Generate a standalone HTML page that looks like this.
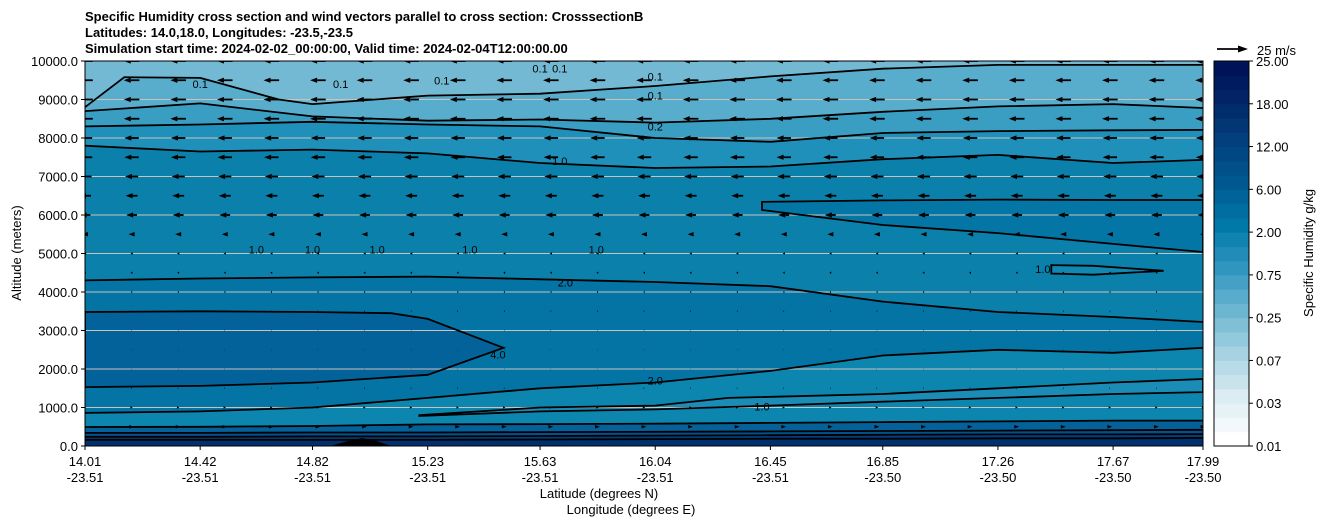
<!DOCTYPE html>
<html><head><meta charset="utf-8"><style>
html,body{margin:0;padding:0;background:#fff;}
svg{display:block;font-family:"Liberation Sans","DejaVu Sans",sans-serif;}
</style></head><body>
<svg id="chart" width="1326" height="526" viewBox="0 0 1326 526" xmlns="http://www.w3.org/2000/svg">
<text x="85" y="21" font-size="13" font-weight="bold">Specific Humidity cross section and wind vectors parallel to cross section: CrosssectionB</text>
<text x="85" y="37" font-size="13" font-weight="bold">Latitudes: 14.0,18.0, Longitudes: -23.5,-23.5</text>
<text x="85" y="53" font-size="13" font-weight="bold">Simulation start time: 2024-02-02_00:00:00, Valid time: 2024-02-04T12:00:00.00</text>
<defs><clipPath id="plotclip"><rect x="85" y="61" width="1118" height="385"/></clipPath></defs>
<g id="fills" clip-path="url(#plotclip)"></g>
<g id="grid"></g>
<g id="contours" clip-path="url(#plotclip)"></g>
<g id="arrows" clip-path="url(#plotclip)"></g>
<rect x="85" y="61" width="1118" height="385" fill="none" stroke="#000" stroke-width="1"/>
<g id="axes"></g>
<text transform="translate(21,253) rotate(-90)" text-anchor="middle" font-size="13">Altitude (meters)</text>
<text x="599" y="498" text-anchor="middle" font-size="13">Latitude (degrees N)</text>
<text x="631" y="514" text-anchor="middle" font-size="13">Longitude (degrees E)</text>
<g id="cbar"></g>
<text transform="translate(1313,253) rotate(-90)" text-anchor="middle" font-size="13">Specific Humidity g/kg</text>
<g>
<line x1="1217" y1="49" x2="1240" y2="49" stroke="#000" stroke-width="1.8"/>
<polygon points="1248,49 1238,45.5 1238,52.5" fill="#000"/>
<text x="1257" y="55" font-size="13">25 m/s</text>
</g>
</svg>
<script>
const xTickLats = [14.01,14.42,14.82,15.23,15.63,16.04,16.45,16.85,17.26,17.67,17.99];
const xTickLons = ["-23.51","-23.51","-23.51","-23.51","-23.51","-23.51","-23.51","-23.50","-23.50","-23.50","-23.50"];
const yTicks = [0,1000,2000,3000,4000,5000,6000,7000,8000,9000,10000];
const cbarTicks = ["0.01","0.03","0.07","0.25","0.75","2.00","6.00","12.00","18.00","25.00"];
const cbarKeyColors = ["#ffffff","#dbecf2","#a6d2e1","#6db6d1","#3096bf","#0079a8","#005891","#023f7c","#022466","#000a50"];
const windAlts = [10000,9500,9000,8500,8000,7500,7000,6500,6000,5500,5000,4500,4000,3500,3000,2500,2000,1500,1000,500];
const windU = [-13,-13,-13,-13,-12,-12,-11,-10,-9,-5,-2,-1.5,-1,-0.5,-0.3,0.2,0.2,0.5,2,4];
const windCols = 25;
const L = xTickLats;
const layerLats = {
  l1:L, l2:L, l3:L, l4:L, l5:L, l7:L, l9:L, l10:L, l11:L,
  l12:[14.01,14.15,14.42,14.7,14.82,15.23,15.63,16.04,16.45,16.85,17.26,17.67,17.99]
};
const layerAlts = {
  l1:[160,160,160,160,170,180,190,190,200,200,210],
  l2:[240,240,250,250,260,270,280,290,300,300,310],
  l3:[340,340,350,350,360,370,380,390,400,410,420],
  l4:[494,500,520,560,570,580,600,620,640,660,660],
  l5:[860,900,1000,1250,1500,1650,1950,2350,2500,2420,2550],
  l7:[4300,4350,4380,4400,4330,4260,4150,3750,3480,3350,3220],
  l9:[7800,7650,7700,7600,7350,7220,7260,7450,7560,7350,7430],
  l10:[8300,8350,8420,8350,8300,8000,7900,8130,8180,8200,8210],
  l11:[8700,8900,8560,8450,8480,8400,8500,8680,8820,8880,8780],
  l12:[8800,9580,9560,9000,8880,9100,9150,9350,9600,9800,9900,9900,9900]
};
const layerColors = {l1:"#023f7c",l2:"#03508c",l3:"#04619a",l4:"#0c86ae",l5:"#0474a5",l7:"#0a80aa",l9:"#1f90ba",l10:"#3a9dc2",l11:"#59adcc",l12:"#74b9d3"};
const region4Lats = [14.01,14.42,14.82,15.1,15.23,15.5,15.23,14.82,14.42,14.01];
const region4Alts = [3480,3500,3480,3450,3300,2550,1850,1650,1560,1530];
const regionR2Lats = [16.42,16.85,17.26,17.67,17.99,17.99,17.67,17.26,16.85,16.42];
const regionR2Alts = [6340,6380,6400,6390,6390,5040,5250,5530,5740,6130];
const regionR1Lats = [17.45,17.6,17.85,17.6,17.45];
const regionR1Alts = [4700,4680,4550,4450,4480];
const regionR3Lats = [15.2,15.63,16.04,16.3,16.85,17.26,17.67,17.99,17.99,17.67,17.26,16.85,16.45,16.04,15.63,15.2];
const regionR3Alts = [800,1000,1050,1250,1350,1500,1650,1740,1400,1350,1250,1150,1050,950,900,780];
const labelLats = [15.72,16.04,16.42,17.42,15.48,15.7,15.7,16.04,16.04,14.62,14.82,15.38,15.83,15.05,14.42,14.92,15.28,15.63,16.04];
const labelAlts = [4250,1700,1020,4600,2380,7400,9800,9100,8300,5100,5100,5100,5100,5100,9400,9400,9500,9800,9600];
const labelTexts = ["2.0","2.0","1.0","1.0","4.0","1.0","0.1","0.1","0.2","1.0","1.0","1.0","1.0","1.0","0.1","0.1","0.1","0.1","0.1"];

const NS="http://www.w3.org/2000/svg";
const X0=85,X1=1203,Y0=446,Y1=61;
const sx = lat => X0+(lat-14.01)/(17.99-14.01)*(X1-X0);
const sy = alt => Y0-alt/10000*(Y0-Y1);
function mk(tag, attrs, parent){const e=document.createElementNS(NS,tag);for(const k in attrs)e.setAttribute(k,attrs[k]);parent.appendChild(e);return e;}
const fills=document.getElementById('fills'), cont=document.getElementById('contours');
const base=mk('rect',{x:X0,y:Y1,width:X1-X0,height:Y0-Y1,fill:'#00306e'},fills);


function linePts(lats,alts){return lats.map((a,i)=>sx(a).toFixed(1)+','+sy(alts[i]).toFixed(1));}
function addLayer(key){
  const pts=linePts(layerLats[key],layerAlts[key]);
  const poly=mk('polygon',{points:pts.concat([sx(17.99)+','+sy(10500),sx(14.01)+','+sy(10500)]).join(' '),fill:layerColors[key]},fills);
  
  
  const pl=mk('polyline',{points:pts.join(' '),fill:'none',stroke:'#000','stroke-width':1.8,'stroke-linejoin':'round'},cont);
  
  
}
function addRegion(name,lats,alts,color){
  const pts=linePts(lats,alts).join(' ');
  const p=mk('polygon',{points:pts,fill:color},fills);
  
  
  const c=mk('polygon',{points:pts,fill:'none',stroke:'#000','stroke-width':1.8},cont);
  
  
}
['l1','l2','l3','l4','l5'].forEach(addLayer);
addRegion('q4',region4Lats,region4Alts,'#03629a');
addRegion('r3',regionR3Lats,regionR3Alts,'#1a8cb5');
addLayer('l7');
addRegion('r2',regionR2Lats,regionR2Alts,'#0476a6');
addRegion('r1',regionR1Lats,regionR1Alts,'#1088b2');
['l9','l10','l11','l12'].forEach(addLayer);
const terr=mk('polygon',{points:'330,446 348,441 362,438 376,441 392,446',fill:'#000'},cont);


labelTexts.forEach((t,i)=>{
  const e=mk('text',{x:sx(labelLats[i]),y:sy(labelAlts[i])+4,'font-size':11,'text-anchor':'middle',fill:'#000'},cont);
  e.textContent=t;
  
  
});
const grid=document.getElementById('grid');
yTicks.forEach(v=>{
  if(v===0||v===10000)return;
  const g=mk('line',{x1:X0,x2:X1,y1:sy(v),y2:sy(v),stroke:'#c9c3bd','stroke-width':1},grid);
  
  
});
const arr=document.getElementById('arrows');
const pxPerMs=30/25;
windAlts.forEach((alt,r)=>{
  const u=windU[r];
  for(let c=0;c<windCols;c++){
    const cx=X0+c*(X1-X0)/(windCols-1), cy=sy(alt);
    const len=Math.abs(u)*pxPerMs, dir=u<0?-1:1;
    const hl=Math.min(7,len), hw=hl<7?Math.max(1.2,2.6*hl/7):2.6;
    const tail=cx-dir*len/2, tip=cx+dir*len/2, hb=tip-dir*hl;
    const g=mk('g',{},arr);
    
    
    if(len>hl) mk('line',{x1:tail,y1:cy,x2:hb,y2:cy,stroke:'#000','stroke-width':1.8},g);
    mk('polygon',{points:`${tip},${cy} ${hb},${cy-hw} ${hb},${cy+hw}`,fill:'#000'},g);
  }
});
const ax=document.getElementById('axes');
yTicks.forEach(v=>{
  mk('line',{x1:81,x2:85,y1:sy(v),y2:sy(v),stroke:'#000'},ax);
  const t=mk('text',{x:78,y:sy(v)+5,'text-anchor':'end','font-size':13},ax);
  t.textContent=v.toFixed(1);
  
  
});
xTickLats.forEach((lat,i)=>{
  const x=sx(lat);
  mk('line',{x1:x,x2:x,y1:446,y2:450,stroke:'#000'},ax);
  const t=mk('text',{x:x,y:466,'text-anchor':'middle','font-size':13},ax);
  t.textContent=lat.toFixed(2);
  
  
  const t2=mk('text',{x:x,y:482,'text-anchor':'middle','font-size':13},ax);
  t2.textContent=xTickLons[i];
  
  
});
const cb=document.getElementById('cbar');
const CB0=1214,CBW=35,CBT=61,CBB=446,nb=27;
function hex2rgb(h){return [1,3,5].map(i=>parseInt(h.substr(i,2),16));}
for(let b=0;b<nb;b++){
  const f=b/3, k=Math.min(Math.floor(f),cbarKeyColors.length-2), tt=Math.min(1,f-k);
  const a=hex2rgb(cbarKeyColors[k]), c=hex2rgb(cbarKeyColors[k+1]);
  const col='rgb('+a.map((v,i)=>Math.round(v+(c[i]-v)*tt)).join(',')+')';
  const h=(CBB-CBT)/nb;
  const r=mk('rect',{x:CB0,y:CBB-(b+1)*h,width:CBW,height:h+0.5,fill:col},cb);
  
  
}
mk('rect',{x:CB0,y:CBT,width:CBW,height:CBB-CBT,fill:'none',stroke:'#000'},cb);
cbarTicks.forEach((t,i)=>{
  const y=CBB-i*(CBB-CBT)/(cbarTicks.length-1);
  mk('line',{x1:CB0+CBW,x2:CB0+CBW+4,y1:y,y2:y,stroke:'#000'},cb);
  const e=mk('text',{x:CB0+CBW+7,y:y+5,'font-size':13},cb);
  e.textContent=t;
  
  
});
</script>
</body></html>
